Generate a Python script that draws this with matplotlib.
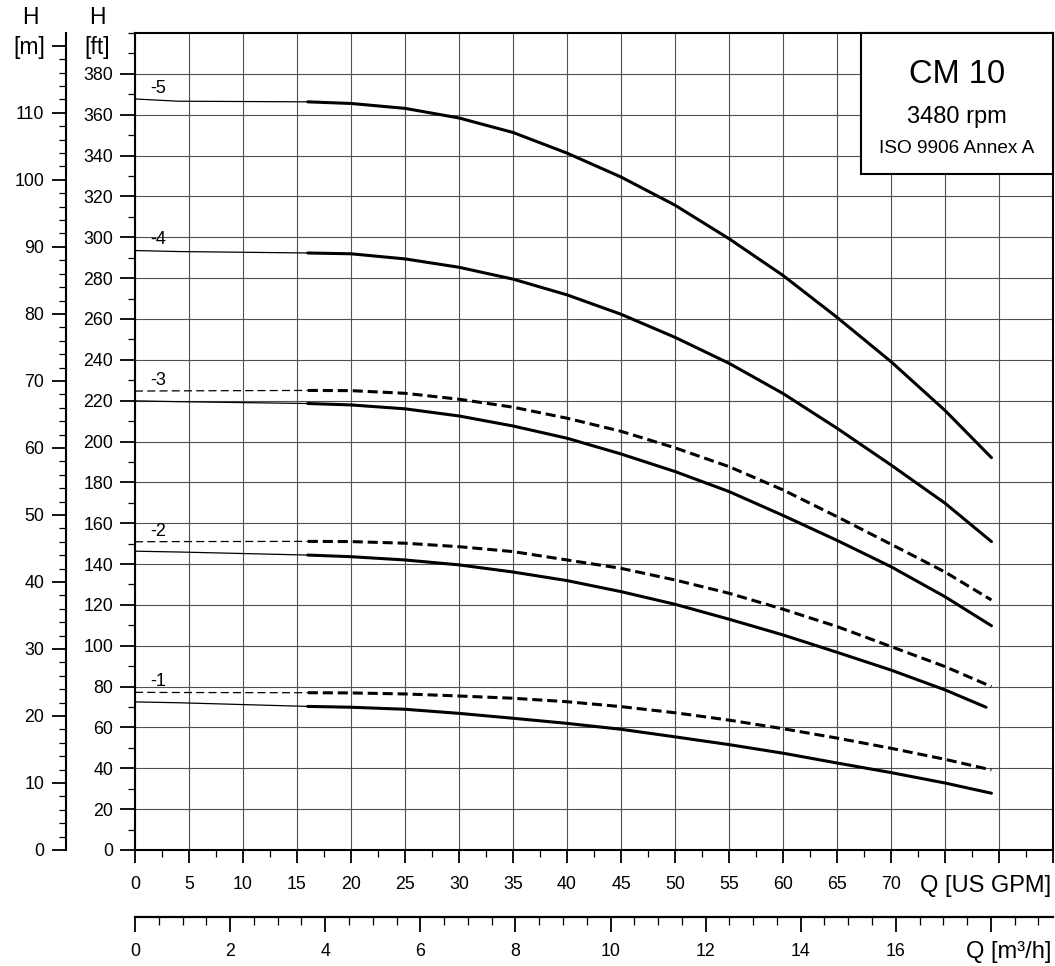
import matplotlib
matplotlib.use('Agg')
import matplotlib.pyplot as plt
from matplotlib.ticker import MultipleLocator, FixedLocator, FuncFormatter
from matplotlib.patches import Rectangle

plt.rcParams['font.family'] = ['Liberation Sans', 'DejaVu Sans']

# ---------------- data ----------------
GPM_PER_M3H = 4.402868
FT_PER_M = 3.28084

stage_labels = ['-5', '-4', '-3', '-2', '-1']

# thin extension (0 .. 16 US GPM)
q_ext = [0, 4, 16]
h5_ext = [367.7, 366.6, 366.3]
h4_ext = [293.5, 293.0, 292.3]
h3_ext = [219.9, 219.5, 218.6]
h3d_ext = [224.7, 224.8, 225.0]
h2_ext = [146.3, 145.9, 144.4]
h2d_ext = [150.9, 151.0, 151.1]
h1_ext = [72.5, 72.1, 70.3]
h1d_ext = [77.2, 77.1, 77.0]

# operating range (thick)
q_main = [16, 20, 25, 30, 35, 40, 45, 50, 55, 60, 65, 70, 75, 79.3]
q_main_2 = [16, 20, 25, 30, 35, 40, 45, 50, 55, 60, 65, 70, 75, 78.8]
h5 = [366.3, 365.5, 363.1, 358.4, 351.3, 341.2, 329.5, 315.7, 299.3, 281.3, 260.8, 239.1, 215.2, 192.1]
h4 = [292.3, 291.9, 289.4, 285.3, 279.5, 271.8, 262.3, 251.0, 238.3, 223.5, 206.5, 188.5, 169.8, 151.0]
h3 = [218.6, 217.9, 216.0, 212.5, 207.6, 201.6, 193.9, 185.3, 175.5, 163.8, 151.6, 138.7, 124.0, 109.8]
h3d = [225.0, 224.9, 223.6, 220.7, 216.8, 211.4, 205.0, 196.9, 187.7, 176.3, 163.2, 149.7, 136.1, 122.4]
h2 = [144.4, 143.6, 142.0, 139.6, 136.1, 131.9, 126.5, 120.3, 113.0, 105.3, 96.8, 88.1, 78.4, 69.9]
h2d = [151.1, 151.0, 150.2, 148.5, 146.1, 142.0, 137.9, 132.2, 125.7, 117.9, 109.4, 99.6, 89.8, 80.0]
h1 = [70.3, 69.9, 68.9, 66.9, 64.5, 62.0, 59.1, 55.4, 51.6, 47.4, 42.6, 37.9, 32.8, 27.8]
h1d = [77.0, 76.9, 76.4, 75.4, 74.3, 72.6, 70.2, 67.2, 63.6, 59.4, 54.8, 49.8, 44.4, 39.2]

gpm_ticks_labelled = list(range(0, 75, 5))
ft_ticks = list(range(0, 400, 20))

# ---------------- figure ----------------
W, H = 1055, 966
fig = plt.figure(figsize=(W / 100, H / 100), dpi=100)
ax = fig.add_axes([135 / W, 116 / H, 918 / W, 817 / H])
ax.set_xlim(0, 85)
ax.set_ylim(0, 400)

grid_c = '#505050'
ax.xaxis.set_major_locator(MultipleLocator(5))
ax.xaxis.set_minor_locator(MultipleLocator(2.5))
ax.yaxis.set_major_locator(FixedLocator(ft_ticks))
ax.yaxis.set_minor_locator(MultipleLocator(10))
ax.grid(True, which='major', color=grid_c, lw=0.8)
ax.xaxis.set_major_formatter(FuncFormatter(
    lambda v, p: f'{int(round(v))}' if round(v) in gpm_ticks_labelled else ''))
ax.yaxis.set_major_formatter(FuncFormatter(lambda v, p: f'{int(round(v))}'))

ax.tick_params(axis='x', which='major', direction='out', length=9.6, width=1.3,
               pad=9.0, labelsize=12.8)
ax.tick_params(axis='x', which='minor', direction='out', length=5.3, width=0.9)
ax.tick_params(axis='y', which='major', direction='out', length=10.8, width=1.3,
               pad=4.8, labelsize=12.8)
ax.tick_params(axis='y', which='minor', direction='out', length=5.3, width=0.9)
for s in ax.spines.values():
    s.set_linewidth(1.5)

# secondary H [m] axis
secy = ax.secondary_yaxis(-69 / 918, functions=(lambda ft: ft / FT_PER_M,
                                                 lambda m: m * FT_PER_M))
secy.yaxis.set_major_locator(MultipleLocator(10))
secy.yaxis.set_minor_locator(MultipleLocator(2))
secy.yaxis.set_major_formatter(FuncFormatter(
    lambda v, p: '' if v > 115 else f'{int(round(v))}'))
secy.tick_params(which='major', length=10, width=1.3, pad=5.5, labelsize=12.8)
secy.tick_params(which='minor', length=4.8, width=0.9)
for s in secy.spines.values():
    s.set_linewidth(1.5)

# secondary Q [m3/h] axis
secx = ax.secondary_xaxis(-67 / 817, functions=(lambda q: q / GPM_PER_M3H,
                                                 lambda m: m * GPM_PER_M3H))
secx.xaxis.set_major_locator(MultipleLocator(2))
secx.xaxis.set_minor_locator(MultipleLocator(0.5))
secx.xaxis.set_major_formatter(FuncFormatter(
    lambda v, p: '' if v > 17 else f'{int(round(v))}'))
secx.tick_params(which='major', length=10.6, width=1.3, pad=7.9, labelsize=12.8)
secx.tick_params(which='minor', length=5.8, width=0.9)
for s in secx.spines.values():
    s.set_linewidth(1.6)

# ---------------- curves ----------------
thick = 2.2
thin = 0.9
solid_main = [h5, h4, h3, h2, h1]
solid_ext = [h5_ext, h4_ext, h3_ext, h2_ext, h1_ext]
dash_main = [None, None, h3d, h2d, h1d]
dash_ext = [None, None, h3d_ext, h2d_ext, h1d_ext]

for i, lab in enumerate(stage_labels):
    qm = q_main_2 if lab == '-2' else q_main
    ax.plot(q_ext, solid_ext[i], color='black', lw=thin, zorder=3)
    ax.plot(qm, solid_main[i], color='black', lw=thick, zorder=3,
            solid_capstyle='round', solid_joinstyle='round')
    top0 = solid_ext[i][0]
    if dash_main[i] is not None:
        ax.plot(q_ext, dash_ext[i], color='black', lw=thin, dashes=(6.4, 3.4), zorder=3)
        ax.plot(q_main, dash_main[i], color='black', lw=thick, dashes=(3.3, 1.6),
                zorder=3)
        top0 = max(top0, dash_ext[i][0])
    ax.text(1.4, top0 + 3.0, lab, fontsize=13, ha='left', va='baseline', zorder=4)

# ---------------- info box ----------------
bx0 = (861 - 135) / 918
by0 = (850 - 174) / 817
ax.add_patch(Rectangle((bx0, by0), 1 - bx0, 1 - by0, transform=ax.transAxes,
                       facecolor='white', edgecolor='black', lw=1.5, zorder=5,
                       clip_on=False))
bxc = (957 - 135) / 918
ax.text(bxc, (850 - 83.3) / 817, 'CM 10', transform=ax.transAxes, ha='center',
        va='baseline', fontsize=23.5, zorder=6)
ax.text(bxc, (850 - 122.7) / 817, '3480 rpm', transform=ax.transAxes, ha='center',
        va='baseline', fontsize=17, zorder=6)
ax.text(bxc, (850 - 153.3) / 817, 'ISO 9906 Annex A', transform=ax.transAxes,
        ha='center', va='baseline', fontsize=13.7, zorder=6)

# ---------------- axis titles ----------------
ax.text((1051 - 135) / 918, (850 - 891.7) / 817, 'Q [US GPM]', transform=ax.transAxes,
        ha='right', va='baseline', fontsize=17, clip_on=False)
ax.text((1051 - 135) / 918, (850 - 958.3) / 817, 'Q [m³/h]', transform=ax.transAxes,
        ha='right', va='baseline', fontsize=17, clip_on=False)

fig.text(30 / W, (H - 24) / H, 'H', ha='center', va='baseline', fontsize=16.5)
fig.text(29 / W, (H - 54.3) / H, '[m]', ha='center', va='baseline', fontsize=16.5)
fig.text(97.5 / W, (H - 24) / H, 'H', ha='center', va='baseline', fontsize=16.5)
fig.text(97 / W, (H - 54.3) / H, '[ft]', ha='center', va='baseline', fontsize=16.5)

fig.savefig('out.png', dpi=100)
